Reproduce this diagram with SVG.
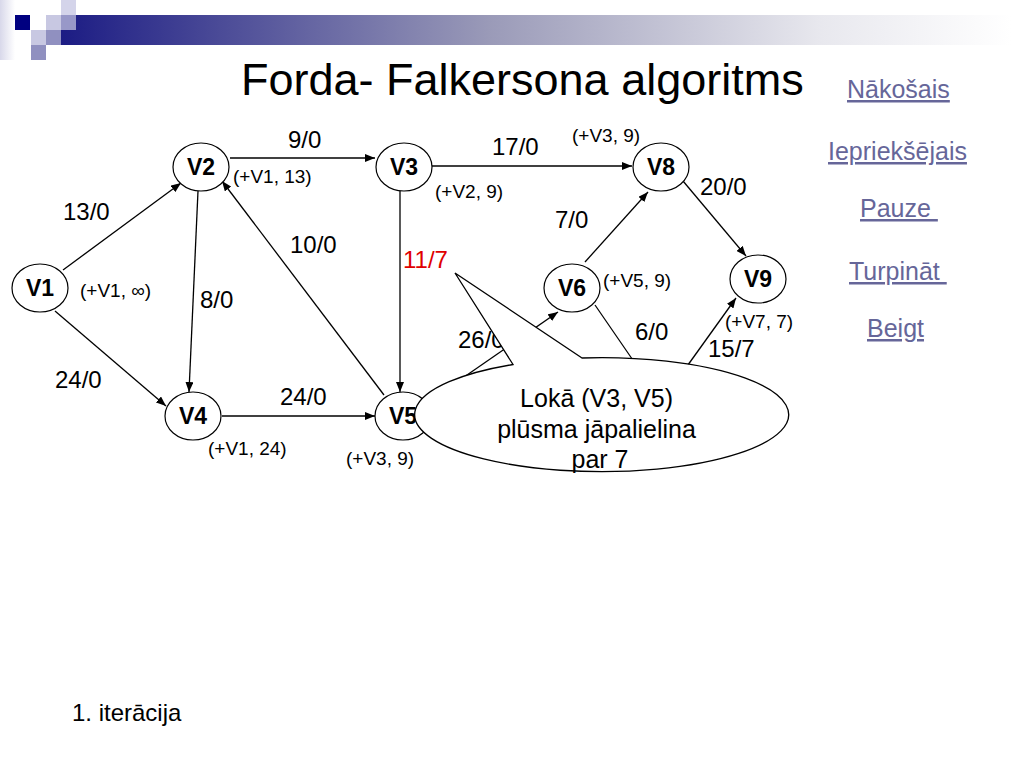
<svg xmlns="http://www.w3.org/2000/svg" width="1024" height="768" viewBox="0 0 1024 768">
<defs>
<linearGradient id="bar" x1="0" y1="0" x2="1" y2="0">
<stop offset="0" stop-color="#1c1c84"/>
<stop offset="0.45" stop-color="#9a9ab8"/>
<stop offset="0.8" stop-color="#e8e8ee"/>
<stop offset="1" stop-color="#ffffff"/>
</linearGradient>
<linearGradient id="strip" x1="0" y1="0" x2="1" y2="0">
<stop offset="0" stop-color="#d8d8ea"/>
<stop offset="1" stop-color="#ffffff"/>
</linearGradient>
<marker id="arr" markerWidth="10" markerHeight="8" refX="10" refY="4" orient="auto" markerUnits="userSpaceOnUse">
<path d="M0,0 L10,4 L0,8 z" fill="#000"/>
</marker>
<style>
.node ellipse{fill:#fff;stroke:#000;stroke-width:1.2}
.node text{font-family:"Liberation Sans",Arial,sans-serif;font-weight:bold;font-size:23px;text-anchor:middle}
.edge{stroke:#000;stroke-width:1.3;fill:none}
.arrow{marker-end:url(#arr)}
.el{font-family:"Liberation Sans",Arial,sans-serif;font-size:24px;fill:#000}
.ann{font-family:"Liberation Sans",Arial,sans-serif;font-size:19px;fill:#000}
.link{font-family:"Liberation Sans",Arial,sans-serif;font-size:25px;fill:#666699;text-decoration:underline}
</style>
</defs>
<rect x="0" y="0" width="1024" height="768" fill="#fff"/>
<!-- header decoration -->
<rect x="0" y="0" width="15" height="60" fill="url(#strip)"/>
<rect x="61" y="15" width="950" height="30" fill="url(#bar)"/>
<rect x="15" y="15" width="15" height="15" fill="#000080"/>
<rect x="46" y="15" width="15" height="15" fill="#c8c8e2"/>
<rect x="61" y="15" width="15" height="15" fill="#9898c8"/>
<rect x="61" y="0" width="15" height="15" fill="#d4d4ea"/>
<rect x="31" y="30" width="15" height="15" fill="#c8c8e2"/>
<rect x="46" y="30" width="15" height="15" fill="#9090c0"/>
<rect x="31" y="45" width="15" height="15" fill="#9090c0"/>
<text x="241" y="95" font-family="'Liberation Sans',Arial,sans-serif" font-size="45">Forda- Falkersona algoritms</text>
<!-- links -->
<text class="link" x="847" y="98">Nākošais</text>
<text class="link" x="828" y="160">Iepriekšējais</text>
<text class="link" x="860" y="217" xml:space="preserve">Pauze </text>
<text class="link" x="849" y="280" xml:space="preserve">Turpināt </text>
<text class="link" x="867" y="337">Beigt</text>
<!-- connectors -->
<g id="connectors">
<line class="edge arrow" x1="63" y1="270" x2="181" y2="183"/>
<line class="edge arrow" x1="55" y1="311" x2="166" y2="406"/>
<line class="edge arrow" x1="230" y1="158" x2="375" y2="158"/>
<line class="edge arrow" x1="198" y1="191" x2="189" y2="392"/>
<line class="edge arrow" x1="384" y1="395" x2="222" y2="181"/>
<line class="edge arrow" x1="222" y1="416" x2="375" y2="416"/>
<line class="edge arrow" x1="400" y1="191" x2="400" y2="392"/>
<line class="edge arrow" x1="432" y1="166" x2="632" y2="166"/>
<line class="edge arrow" x1="585" y1="262" x2="648" y2="192"/>
<line class="edge arrow" x1="683" y1="181" x2="746" y2="256"/>
<line class="edge arrow" x1="428" y1="402" x2="558" y2="312"/>
<line class="edge" x1="595" y1="305" x2="650" y2="385"/>
<line class="edge arrow" x1="675" y1="383" x2="736" y2="298"/>
<line class="edge" x1="760" y1="442" x2="770" y2="432"/>
</g>
<!-- edge labels -->
<g id="edge-labels">
<text class="el" x="288" y="148">9/0</text>
<text class="el" x="63" y="220">13/0</text>
<text class="el" x="290" y="253">10/0</text>
<text class="el" x="200" y="308">8/0</text>
<text class="el" x="55" y="388">24/0</text>
<text class="el" x="280" y="405">24/0</text>
<text class="el" x="403" y="268" style="fill:#e00000">11/7</text>
<text class="el" x="492" y="155">17/0</text>
<text class="el" x="555" y="228">7/0</text>
<text class="el" x="700" y="195">20/0</text>
<text class="el" x="458" y="348">26/0</text>
<text class="el" x="635" y="340">6/0</text>
<text class="el" x="708" y="357">15/7</text>
</g>
<!-- nodes -->
<g id="V1" class="node"><ellipse cx="40" cy="288" rx="28" ry="24"/><text x="40" y="296">V1</text></g>
<g id="V2" class="node"><ellipse cx="201" cy="167" rx="28" ry="24"/><text x="201" y="175">V2</text></g>
<g id="V3" class="node"><ellipse cx="404" cy="167" rx="28" ry="24"/><text x="404" y="175">V3</text></g>
<g id="V4" class="node"><ellipse cx="193" cy="416" rx="28" ry="24"/><text x="193" y="424">V4</text></g>
<g id="V5" class="node"><ellipse cx="403" cy="416" rx="28" ry="24"/><text x="403" y="424">V5</text></g>
<g id="V6" class="node"><ellipse cx="572" cy="288" rx="28" ry="24"/><text x="572" y="296">V6</text></g>
<g id="V8" class="node"><ellipse cx="661" cy="167" rx="28" ry="24"/><text x="661" y="175">V8</text></g>
<g id="V9" class="node"><ellipse cx="758" cy="279" rx="28" ry="24"/><text x="758" y="287">V9</text></g>
<!-- node marks -->
<g id="marks">
<text class="ann" x="80" y="297">(+V1, ∞)</text>
<text class="ann" x="233" y="183">(+V1, 13)</text>
<text class="ann" x="208" y="455">(+V1, 24)</text>
<text class="ann" x="346" y="465">(+V3, 9)</text>
<text class="ann" x="435" y="198">(+V2, 9)</text>
<text class="ann" x="572" y="142">(+V3, 9)</text>
<text class="ann" x="603" y="287">(+V5, 9)</text>
<text class="ann" x="725" y="328">(+V7, 7)</text>
</g>
<!-- callout -->
<g id="callout">
<path d="M582,358 L455,273 L513,364.5 A187,57 0 1 0 582,358 Z" fill="#fff" stroke="#000" stroke-width="1.3"/>
<text font-family="'Liberation Sans',Arial,sans-serif" font-size="25" text-anchor="middle">
<tspan x="600" y="407">Lokā (V3, V5)</tspan>
<tspan x="600" y="438">plūsma jāpalielina</tspan>
<tspan x="600" y="468">par 7</tspan>
</text>
</g>
<text x="72" y="721" font-family="'Liberation Sans',Arial,sans-serif" font-size="24">1. iterācija</text>
</svg>
